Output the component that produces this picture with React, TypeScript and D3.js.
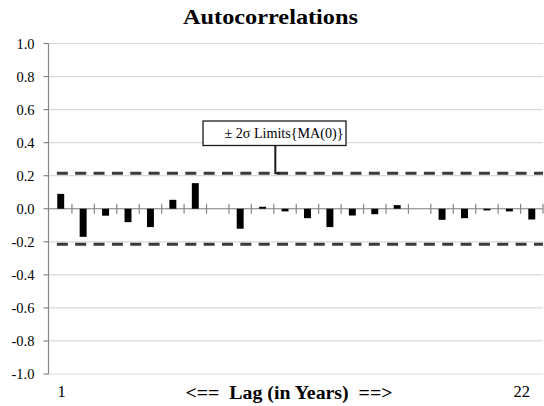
import React from "react";
import * as d3 from "d3";

const lags: string[] = ["1","2","3","4","5","6","7","8","9","10","11","12","13","14","15","16","17","18","19","20","21","22"];
const acf: number[] = [0.09, -0.17, -0.042, -0.081, -0.111, 0.054, 0.155, 0, -0.121, 0.012, -0.016, -0.057, -0.111, -0.041, -0.033, 0.022, 0, -0.067, -0.057, -0.01, -0.016, -0.065];
const yTicks: number[] = [1.0, 0.8, 0.6, 0.4, 0.2, 0.0, -0.2, -0.4, -0.6, -0.8, -1.0];
const limit: number = 0.215;
const xEndLabels: string[] = ["1", "22"];
const title = "Autocorrelations";
const xTitle = "<==  Lag (in Years)  ==>";
const calloutText = "± 2σ Limits{MA(0)}";

const W = 544;
const H = 406;
const left = 49.5;
const right = 543;
const top = 43.5;
const bottom = 374;

const ts = (size: number, bold = false): React.CSSProperties =>
  bold ? { fontFamily: "Times New Roman", fontSize: size + "px", fontWeight: "bold" } : { fontFamily: "Times New Roman", fontSize: size + "px" };

export default function App() {
  const x = d3.scaleBand<string>().domain(lags).range([left, right]).paddingInner(0.69).paddingOuter(0.345);
  const y = d3.scaleLinear().domain([-1, 1]).range([bottom, top]);
  const step = x.step();
  const y0 = y(0);
  const boundaries = d3.range(1, lags.length + 1).map((i) => left + i * step);
  const connX = left + 10 * step + 1.5;
  const boxTop = 121;
  const boxBottom = 145.5;

  return (
    <svg width={W} height={H} style={{ position: "absolute", left: 0, top: 0, background: "#fff" }}>
      <rect x={0} y={0} width={W} height={H} fill="#fff" />
      <text x={270.5} y={24} textAnchor="middle" style={ts(22, true)} fill="#000" textLength={175} lengthAdjust="spacingAndGlyphs">{title}</text>
      {yTicks.map((t) => (
        <line key={"g" + t} x1={left - 1} x2={right} y1={y(t)} y2={y(t)} stroke="#d9d9d9" strokeWidth={1.2} />
      ))}
      <line x1={48.5} x2={48.5} y1={top} y2={bottom} stroke="#868686" strokeWidth={1.2} />
      {yTicks.map((t) => (
        <g key={"t" + t}>
          <line x1={43.5} x2={48.5} y1={y(t)} y2={y(t)} stroke="#868686" strokeWidth={1.2} />
          <text x={34.5} y={y(t) + 5} textAnchor="end" style={ts(14.5)} fill="#000">{t.toFixed(1)}</text>
        </g>
      ))}
      <line x1={48.5} x2={right} y1={y0} y2={y0} stroke="#868686" strokeWidth={1.2} />
      {boundaries.map((bx, i) => (
        <line key={"b" + i} x1={bx} x2={bx} y1={y0 - 5} y2={y0 + 5} stroke="#868686" strokeWidth={1.2} />
      ))}
      {acf.map((v, i) => (
        <rect key={"r" + i} x={x(lags[i])!} width={x.bandwidth()} y={Math.min(y(v), y0)} height={Math.abs(y(v) - y0)} fill="#000" />
      ))}
      {[limit, -limit].map((l) => (
        <line key={"l" + l} x1={left} x2={right} y1={y(l)} y2={y(l)} stroke="#3a3a3a" strokeWidth={3} strokeDasharray="11 7.35" strokeDashoffset={11} />
      ))}
      <path d={`M${connX},${boxBottom} V${y(limit)} H${connX + 5}`} fill="none" stroke="#1a1a1a" strokeWidth={2} />
      <rect x={203} y={boxTop} width={143} height={boxBottom - boxTop} fill="#fff" stroke="#1a1a1a" strokeWidth={1.3} />
      <text x={224.5} y={137.5} style={ts(14)} fill="#000" textLength={119} lengthAdjust="spacingAndGlyphs">{calloutText}</text>
      <text x={x(xEndLabels[0])! + x.bandwidth() / 2 + 1} y={397} textAnchor="middle" style={ts(16.5)} fill="#000">{xEndLabels[0]}</text>
      <text x={x(xEndLabels[1])! + x.bandwidth() / 2 - 10} y={397} textAnchor="middle" style={ts(16.5)} fill="#000">{xEndLabels[1]}</text>
      <text x={289} y={399} textAnchor="middle" style={{ ...ts(18, true), whiteSpace: "pre" }} fill="#000" textLength={207} lengthAdjust="spacingAndGlyphs">{xTitle}</text>
    </svg>
  );
}
